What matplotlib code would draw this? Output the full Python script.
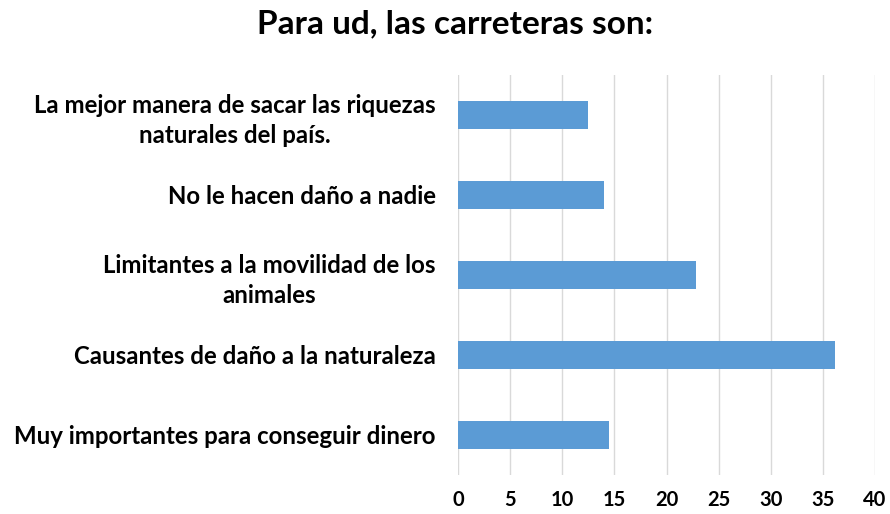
import matplotlib
matplotlib.use("Agg")
import matplotlib.pyplot as plt

categories = [
    "La mejor manera de sacar las riquezas\nnaturales del país.",
    "No le hacen daño a nadie",
    "Limitantes a la movilidad de los\nanimales",
    "Causantes de daño a la naturaleza",
    "Muy importantes para conseguir dinero",
]
values = [12.5, 14.0, 22.8, 36.2, 14.5]
xticks = [0, 5, 10, 15, 20, 25, 30, 35, 40]

plt.rcParams['font.family'] = ['Lato', 'DejaVu Sans']

fig = plt.figure(figsize=(8.9, 5.14), dpi=100)
ax = fig.add_axes([458/890, 1 - 475/514, (875 - 458)/890, 400/514])

ypos = list(range(len(categories)))
ax.barh(ypos, values, height=0.35, color='#5b9bd5', zorder=3)
ax.set_ylim(len(categories) - 0.5, -0.5)
ax.set_xlim(0, 40)
ax.set_xticks(xticks)
ax.set_xticklabels([str(t) for t in xticks], fontsize=14.5, fontweight='bold')
ax.set_yticks(ypos)
ax.set_yticklabels(categories, fontsize=17.3, fontweight='bold',
                   multialignment='center', linespacing=1.35)
ax.tick_params(axis='both', length=0)
ax.tick_params(axis='y', pad=16)
ax.tick_params(axis='x', pad=11)
ax.grid(axis='x', color='#d9d9d9', linewidth=1, zorder=0)
for s in ax.spines.values():
    s.set_visible(False)

fig.text(455/890, 1 - 24/514, "Para ud, las carreteras son:", ha='center', va='center',
         fontsize=24, fontweight='bold')

fig.savefig("out.png", dpi=100)
